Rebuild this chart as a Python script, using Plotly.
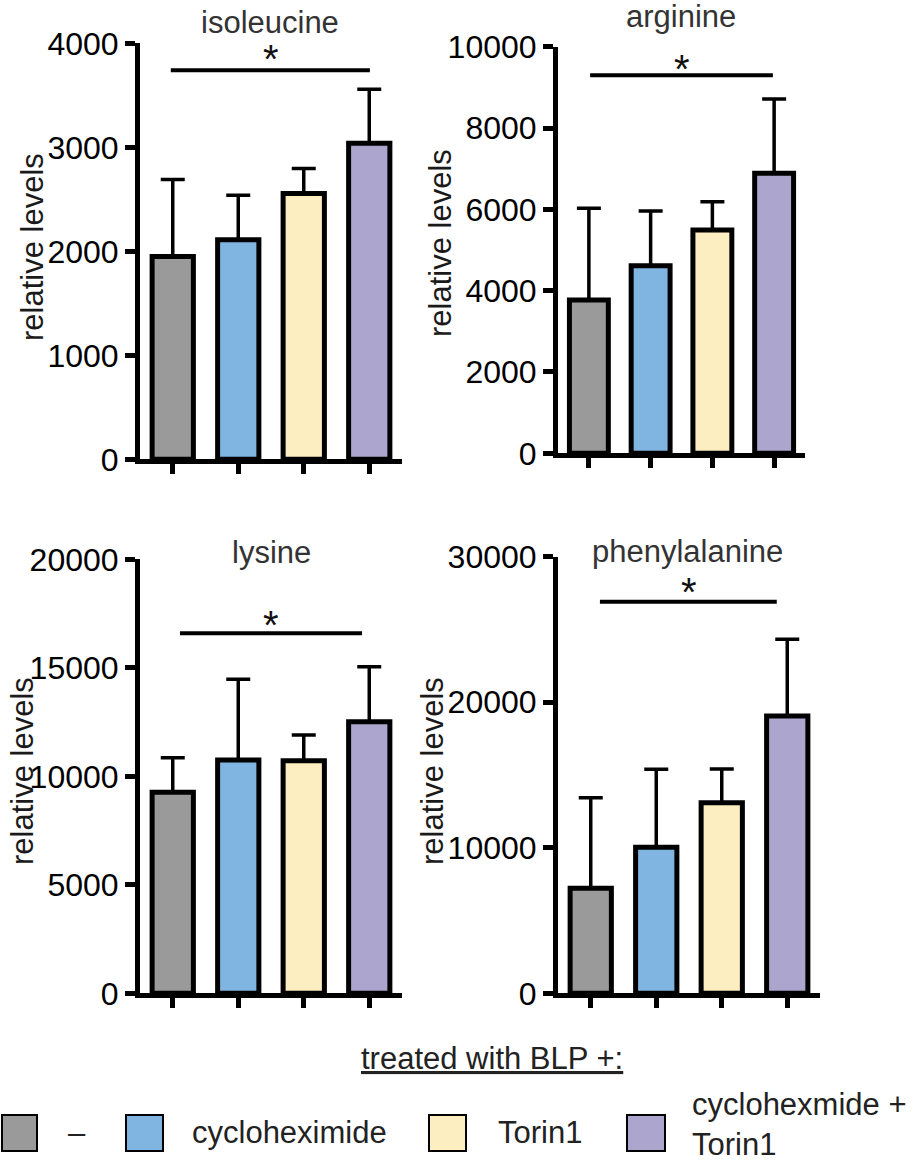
import plotly.graph_objects as go

W, H = 914, 1162

# ---------------- data ----------------
amino_acids = ["isoleucine", "arginine", "lysine", "phenylalanine"]
conditions = ["–", "cycloheximide", "Torin1", "cyclohexmide +<br>Torin1"]
bar_colors = ["#9a9a9a", "#80b5e2", "#fdeec2", "#aca6cf"]
categories = [0, 1, 2, 3]

isoleucine_mean = [1950, 2110, 2555, 3040]
isoleucine_err = [740, 428, 240, 519]
arginine_mean = [3770, 4610, 5490, 6885]
arginine_err = [2255, 1348, 697, 1827]
lysine_mean = [9260, 10750, 10720, 12515]
lysine_err = [1597, 3720, 1183, 2536]
phenylalanine_mean = [7215, 10030, 13095, 19055]
phenylalanine_err = [6225, 5362, 2317, 5270]

y_max = [4000, 10000, 20000, 30000]
y_dtick = [1000, 2000, 5000, 10000]
sig_y = [3740, 9300, 16590, 26900]
sig_x = [(-0.03, 3.01), (0.02, 2.98), (0.11, 2.89), (0.14, 2.84)]
star_y = [3935, 9670, 17390, 28190]

means = [isoleucine_mean, arginine_mean, lysine_mean, phenylalanine_mean]
errs = [isoleucine_err, arginine_err, lysine_err, phenylalanine_err]

# ---------------- layout geometry (pixels) ----------------
panels = [(140, 402, 43.3, 459.3), (558, 805, 46.7, 453.3),
          (140, 402, 559.3, 993.3), (558, 820, 556.7, 993.3)]
title_pos = [(270, 22), (681, 16), (271, 552), (687, 551)]
ylabel_pos = [(32, 247), (441, 243), (22, 771), (432, 771)]

def px(x):
    return x / W

def py(y):
    return 1 - y / H

FONT = "Liberation Sans, Arial, Helvetica, sans-serif"

fig = go.Figure()
annotations = []
shapes = []

for i in range(4):
    xa = "x" if i == 0 else f"x{i+1}"
    ya = "y" if i == 0 else f"y{i+1}"
    fig.add_trace(go.Bar(
        x=categories, y=means[i], width=0.63,
        marker=dict(color=bar_colors, line=dict(color="black", width=5)),
        error_y=dict(type="data", symmetric=False, array=errs[i],
                     arrayminus=[0, 0, 0, 0], color="black",
                     thickness=3.5, width=12),
        xaxis=xa, yaxis=ya, showlegend=False, hoverinfo="skip"))

    xl, xr, yt, yb = panels[i]
    xkey = "xaxis" if i == 0 else f"xaxis{i+1}"
    ykey = "yaxis" if i == 0 else f"yaxis{i+1}"
    fig.layout[xkey] = dict(
        domain=[px(xl), px(xr)], anchor=ya, range=[-0.5, 3.5], automargin=False,
        showline=True, linewidth=5, linecolor="black",
        tickmode="array", tickvals=categories, showticklabels=False,
        ticks="outside", ticklen=10, tickwidth=5, tickcolor="black",
        showgrid=False, zeroline=False, fixedrange=True)
    fig.layout[ykey] = dict(
        domain=[py(yb), py(yt)], anchor=xa, range=[0, y_max[i]], automargin=False,
        tick0=0, dtick=y_dtick[i], tickformat="d", exponentformat="none",
        showline=True, linewidth=5, linecolor="black",
        ticks="outside", ticklen=10, tickwidth=5, tickcolor="black",
        tickfont=dict(family=FONT, size=32, color="black"),
        showgrid=False, zeroline=False, fixedrange=True)

    # significance bar
    shapes.append(dict(type="line", xref=xa, yref=ya,
                       x0=sig_x[i][0], x1=sig_x[i][1], y0=sig_y[i], y1=sig_y[i],
                       line=dict(color="black", width=4)))
    annotations.append(dict(text="*", xref=xa, yref=ya, x=1.5, y=star_y[i],
                            showarrow=False, xanchor="center", yanchor="middle",
                            yshift=-9,
                            font=dict(family=FONT, size=40, color="#111")))
    # panel title
    tx, ty = title_pos[i]
    annotations.append(dict(text=amino_acids[i], xref="paper", yref="paper",
                            x=px(tx), y=py(ty), showarrow=False,
                            xanchor="center", yanchor="middle",
                            font=dict(family=FONT, size=31, color="#333")))
    # y label
    lx, ly = ylabel_pos[i]
    annotations.append(dict(text="relative levels", xref="paper", yref="paper",
                            x=px(lx), y=py(ly), showarrow=False, textangle=-90,
                            xanchor="center", yanchor="middle",
                            font=dict(family=FONT, size=31, color="#1a1a1a")))

# ---------------- legend ----------------
annotations.append(dict(text="<u>treated with BLP +:</u>", xref="paper", yref="paper",
                        x=px(492), y=py(1058), showarrow=False,
                        xanchor="center", yanchor="middle",
                        font=dict(family=FONT, size=31, color="#222")))

legend_boxes = [(2, 37), (126, 163), (429, 466), (627, 665)]
legend_text_x = [66, 190, 496, 690]
for k in range(4):
    x0, x1 = legend_boxes[k]
    shapes.append(dict(type="rect", xref="paper", yref="paper",
                       x0=px(x0), x1=px(x1), y0=py(1151), y1=py(1115),
                       fillcolor=bar_colors[k], line=dict(color="black", width=2)))
    ty = 1132 if k < 3 else 1124
    annotations.append(dict(text=conditions[k], xref="paper", yref="paper",
                            x=px(legend_text_x[k]), y=py(ty), showarrow=False,
                            xanchor="left", yanchor="middle", align="left",
                            font=dict(family=FONT, size=31, color="#222")))

fig.update_layout(
    width=W, height=H, margin=dict(l=0, r=0, t=0, b=0, autoexpand=False),
    paper_bgcolor="white", plot_bgcolor="white",
    annotations=annotations, shapes=shapes, bargap=0.3,
    showlegend=False)

fig.write_html("out.html", config={"displayModeBar": False})
